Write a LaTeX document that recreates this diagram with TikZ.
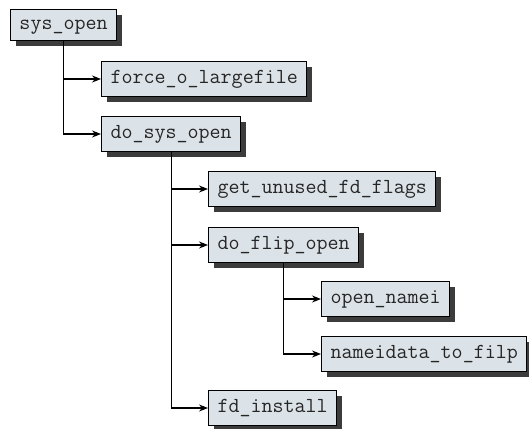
\documentclass[tikz,border=0pt]{standalone}
\usepackage{fontspec}
\setmonofont{Latin Modern Mono}
\usetikzlibrary{shadows,arrows.meta}
\definecolor{boxfill}{HTML}{DCE3E8}
\definecolor{shadowc}{HTML}{3C3C3C}
\tikzset{
  fn/.style={draw=black, line width=1pt, fill=boxfill, anchor=west,
    font=\fontsize{21.4}{23}\selectfont\ttfamily, text=black!85,
    inner xsep=9pt, inner ysep=0pt, text height=14pt, text depth=5pt,
    minimum height=35pt,
    drop shadow={shadow xshift=5pt, shadow yshift=-5pt, fill=shadowc, opacity=1}},
  call/.style={line width=1.1pt, -{Stealth[length=9pt,width=7pt,inset=3pt]}}
}
\begin{document}
\begin{tikzpicture}[x=1pt,y=-1pt]
\useasboundingbox (0,0) rectangle (529,428);
\node[fn, minimum height=31pt] (sys) at (10,25.5) {sys\_open};
\node[fn] (force) at (101,79) {force\_o\_largefile};
\node[fn] (dosys) at (101,134) {do\_sys\_open};
\node[fn] (getfd) at (208,189) {get\_unused\_fd\_flags};
\node[fn] (flip) at (208,245) {do\_flip\_open};
\node[fn] (namei) at (321,299) {open\_namei};
\node[fn] (filp) at (321,354) {nameidata\_to\_filp};
\node[fn] (inst) at (208,408) {fd\_install};
\draw[call] (sys.south) |- (force.west);
\draw[call] (sys.south) |- (dosys.west);
\draw[call] (dosys.south) |- (getfd.west);
\draw[call] (dosys.south) |- (flip.west);
\draw[call] (dosys.south) |- (inst.west);
\draw[call] (flip.south) |- (namei.west);
\draw[call] (flip.south) |- (filp.west);
\end{tikzpicture}
\end{document}
